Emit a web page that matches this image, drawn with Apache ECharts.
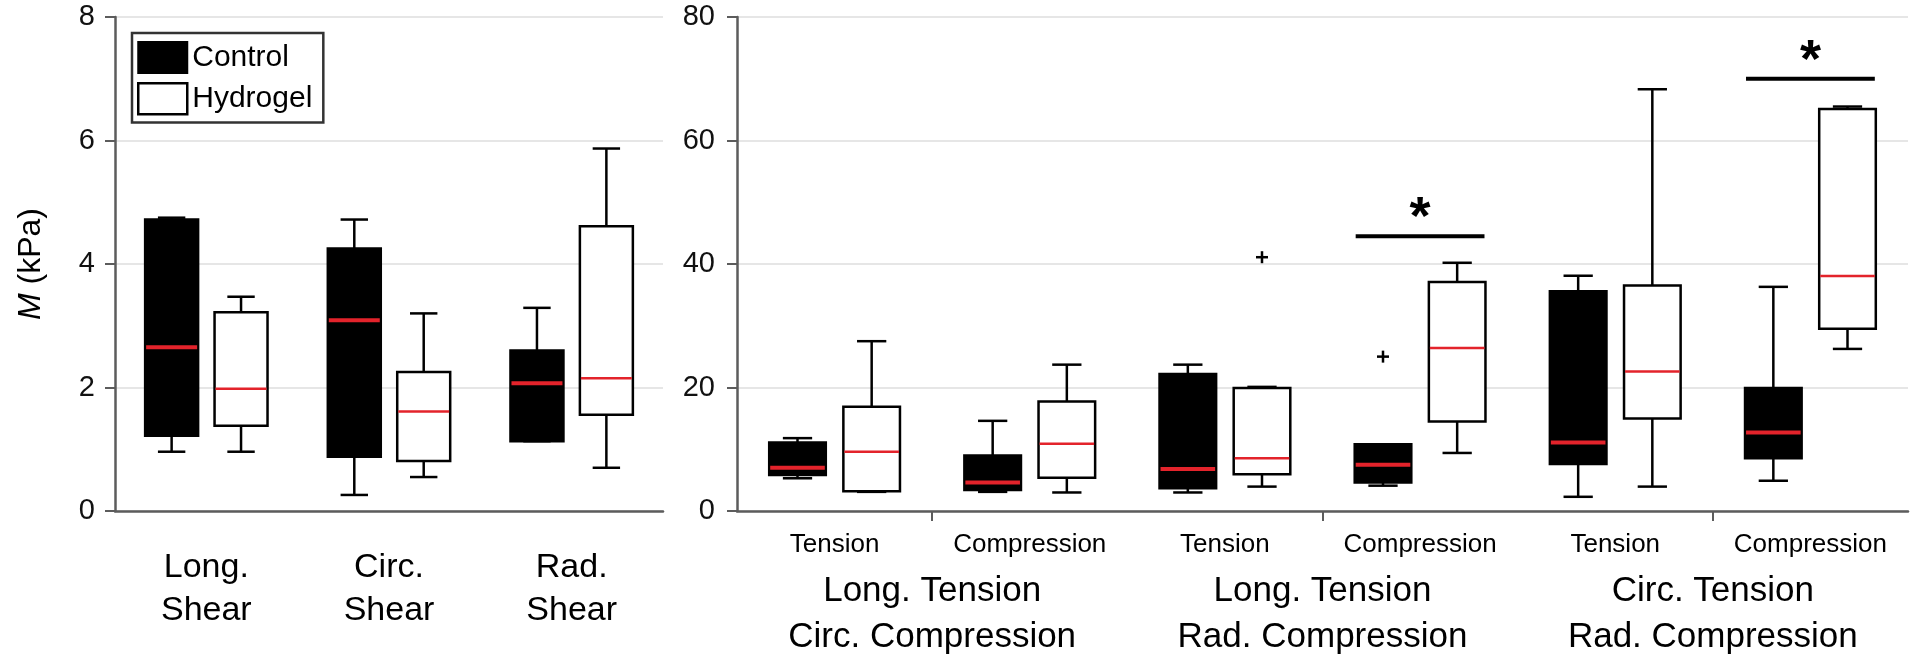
<!DOCTYPE html>
<html>
<head>
<meta charset="utf-8">
<script src="https://cdn.jsdelivr.net/npm/echarts@6/dist/echarts.min.js"></script>
<style>
  html, body { margin: 0; padding: 0; background: #fff; }
  #chart { width: 1920px; height: 660px; }
</style>
</head>
<body>
<div id="chart"></div>
<script>
// shear panel (left)
const shearCategories = ['Long.\nShear', 'Circ.\nShear', 'Rad.\nShear'];
// [min, q1, median, q3, max]
const shearControl = [
  [0.96, 1.22, 2.65, 4.72, 4.75],
  [0.26, 0.88, 3.09, 4.25, 4.72],
  [1.13, 1.13, 2.07, 2.60, 3.29]
];
const shearHydrogel = [
  [0.96, 1.38, 1.98, 3.22, 3.47],
  [0.55, 0.81, 1.61, 2.25, 3.20],
  [0.70, 1.56, 2.15, 4.61, 5.87]
];

// multi-axial panel (right)
const loadCategories = ['Tension', 'Compression', 'Tension', 'Compression', 'Tension', 'Compression'];
const groupCategories = ['Long. Tension\nCirc. Compression', 'Long. Tension\nRad. Compression', 'Circ. Tension\nRad. Compression'];
const loadControl = [
  [5.3, 5.85, 7.0, 11.1, 11.8],
  [3.1, 3.4, 4.6, 9.0, 14.6],
  [3.0, 3.7, 6.8, 22.2, 23.7],
  [4.1, 4.6, 7.5, 10.8, 10.8],
  [2.3, 7.6, 11.1, 35.6, 38.1],
  [4.9, 8.55, 12.7, 19.9, 36.3]
];
const loadHydrogel = [
  [3.1, 3.2, 9.6, 16.9, 27.5],
  [3.0, 5.4, 10.9, 17.75, 23.7],
  [3.95, 5.95, 8.55, 19.9, 20.1],
  [9.4, 14.5, 26.4, 37.1, 40.2],
  [3.95, 15.0, 22.6, 36.5, 68.3],
  [26.25, 29.5, 38.05, 65.1, 65.5]
];
// [category index, side (-1 control / 1 hydrogel), value]
const loadOutliers = [
  [2, 1, 41.1],
  [3, -1, 25.0]
];
// [category index, bar value, star value]
const significance = [
  [3, 44.5, 49.6],
  [5, 70.0, 75.0]
];

const FONT = '"Liberation Sans", Arial, Helvetica, sans-serif';
const AXIS_GRAY = '#5c5c5c';
const RED = '#e3232b';

function boxRenderer(side, fill, medianWidth) {
  return function (params, api) {
    const idx = api.value(0);
    const bw = api.size([1, 0])[0];
    const cx = api.coord([idx, 0])[0] + side * 0.19 * bw;
    const half = 0.145 * bw;
    const cap = 0.075 * bw;
    const y = k => api.coord([idx, api.value(k)])[1];
    const yMin = y(1), yQ1 = y(2), yMed = y(3), yQ3 = y(4), yMax = y(5);
    const ls = { stroke: '#000', lineWidth: 2.5 };
    return {
      type: 'group',
      children: [
        { type: 'line', shape: { x1: cx, y1: yMax, x2: cx, y2: yMin }, style: ls },
        { type: 'line', shape: { x1: cx - cap, y1: yMax, x2: cx + cap, y2: yMax }, style: ls },
        { type: 'line', shape: { x1: cx - cap, y1: yMin, x2: cx + cap, y2: yMin }, style: ls },
        { type: 'rect', shape: { x: cx - half, y: yQ3, width: 2 * half, height: yQ1 - yQ3 },
          style: { fill: fill, stroke: '#000', lineWidth: 2.5 } },
        { type: 'line', shape: { x1: cx - half + 1, y1: yMed, x2: cx + half - 1, y2: yMed },
          style: { stroke: RED, lineWidth: medianWidth } }
      ]
    };
  };
}

function outlierRenderer(params, api) {
  const idx = api.value(0);
  const bw = api.size([1, 0])[0];
  const p = api.coord([idx, api.value(2)]);
  const cx = p[0] + api.value(1) * 0.19 * bw;
  const s = 6;
  const ls = { stroke: '#000', lineWidth: 2.5 };
  return {
    type: 'group',
    children: [
      { type: 'line', shape: { x1: cx - s, y1: p[1], x2: cx + s, y2: p[1] }, style: ls },
      { type: 'line', shape: { x1: cx, y1: p[1] - s, x2: cx, y2: p[1] + s }, style: ls }
    ]
  };
}

function sigRenderer(params, api) {
  const idx = api.value(0);
  const bw = api.size([1, 0])[0];
  const cx = api.coord([idx, 0])[0];
  const yBar = api.coord([idx, api.value(1)])[1];
  const yStar = api.coord([idx, api.value(2)])[1];
  return {
    type: 'group',
    children: [
      { type: 'line', shape: { x1: cx - 0.33 * bw, y1: yBar, x2: cx + 0.33 * bw, y2: yBar },
        style: { stroke: '#000', lineWidth: 4 } },
      { type: 'text', x: cx, y: yStar + 14,
        style: { text: '*', fontSize: 54, fontWeight: 'bold', fontFamily: FONT, fill: '#000', align: 'center', verticalAlign: 'middle' } }
    ]
  };
}

const boxEncode = { x: 0, y: [1, 2, 3, 4, 5] };

const chart = echarts.init(document.getElementById('chart'));
chart.setOption({
  animation: false,
  backgroundColor: '#fff',
  textStyle: { fontFamily: FONT },
  legend: {
    left: 132,
    top: 33,
    orient: 'vertical',
    itemWidth: 49,
    itemHeight: 31,
    itemGap: 8,
    padding: [8, 11, 7, 5],
    borderColor: '#333',
    borderWidth: 2.5,
    backgroundColor: '#fff',
    selectedMode: false,
    textStyle: { fontSize: 30, color: '#000', fontFamily: FONT },
    data: [
      { name: 'Control', icon: 'rect', itemStyle: { color: '#000', borderColor: '#000', borderWidth: 2 } },
      { name: 'Hydrogel', icon: 'rect', itemStyle: { color: '#fff', borderColor: '#000', borderWidth: 2.5 } }
    ]
  },
  grid: [
    { left: 115, top: 17, width: 548, height: 494, containLabel: false, outerBoundsMode: 'none' },
    { left: 737, top: 17, width: 1171, height: 494, containLabel: false, outerBoundsMode: 'none' }
  ],
  xAxis: [
    {
      gridIndex: 0, type: 'category', data: shearCategories, position: 'bottom',
      axisLine: { lineStyle: { color: AXIS_GRAY, width: 2.5 } },
      axisTick: { alignWithLabel: true, length: 10, lineStyle: { color: AXIS_GRAY, width: 2 } },
      axisLabel: { fontSize: 34, lineHeight: 43, color: '#000', margin: 35, fontFamily: FONT }
    },
    {
      gridIndex: 1, type: 'category', data: loadCategories, position: 'bottom',
      axisLine: { lineStyle: { color: AXIS_GRAY, width: 2.5 } },
      axisTick: { show: false },
      axisLabel: { fontSize: 26, color: '#000', margin: 21, fontFamily: FONT, interval: 0 }
    },
    {
      gridIndex: 1, type: 'category', data: groupCategories, position: 'bottom',
      axisLine: { show: false },
      axisTick: { show: true, alignWithLabel: true, length: 10, lineStyle: { color: AXIS_GRAY, width: 2 } },
      axisLabel: { fontSize: 35, lineHeight: 46, color: '#000', margin: 57, fontFamily: FONT, interval: 0 }
    }
  ],
  yAxis: [
    {
      gridIndex: 0, type: 'value', min: 0, max: 8, interval: 2,
      name: '{i|M} (kPa)', nameLocation: 'middle', nameGap: 68,
      nameTextStyle: {
        fontSize: 32, color: '#000', fontFamily: FONT,
        rich: { i: { fontSize: 32, fontStyle: 'italic', color: '#000', fontFamily: FONT } }
      },
      axisLine: { show: true, lineStyle: { color: AXIS_GRAY, width: 2.5 } },
      axisTick: { show: true, length: 10, lineStyle: { color: AXIS_GRAY, width: 2 } },
      axisLabel: { fontSize: 29, color: '#111', margin: 20, fontFamily: FONT },
      splitLine: { lineStyle: { color: '#e6e6e6', width: 2 } }
    },
    {
      gridIndex: 1, type: 'value', min: 0, max: 80, interval: 20,
      axisLine: { show: true, lineStyle: { color: AXIS_GRAY, width: 2.5 } },
      axisTick: { show: true, length: 10, lineStyle: { color: AXIS_GRAY, width: 2 } },
      axisLabel: { fontSize: 29, color: '#111', margin: 22, fontFamily: FONT },
      splitLine: { lineStyle: { color: '#e6e6e6', width: 2 } }
    }
  ],
  series: [
    {
      name: 'Control', type: 'custom', xAxisIndex: 0, yAxisIndex: 0, encode: boxEncode,
      itemStyle: { color: '#000' },
      renderItem: boxRenderer(-1, '#000', 4),
      data: shearControl.map((d, i) => [i].concat(d))
    },
    {
      name: 'Hydrogel', type: 'custom', xAxisIndex: 0, yAxisIndex: 0, encode: boxEncode,
      itemStyle: { color: '#fff' },
      renderItem: boxRenderer(1, '#fff', 2.5),
      data: shearHydrogel.map((d, i) => [i].concat(d))
    },
    {
      name: 'Control', type: 'custom', xAxisIndex: 1, yAxisIndex: 1, encode: boxEncode,
      itemStyle: { color: '#000' },
      renderItem: boxRenderer(-1, '#000', 4),
      data: loadControl.map((d, i) => [i].concat(d))
    },
    {
      name: 'Hydrogel', type: 'custom', xAxisIndex: 1, yAxisIndex: 1, encode: boxEncode,
      itemStyle: { color: '#fff' },
      renderItem: boxRenderer(1, '#fff', 2.5),
      data: loadHydrogel.map((d, i) => [i].concat(d))
    },
    {
      name: 'outliers', type: 'custom', xAxisIndex: 1, yAxisIndex: 1, encode: { x: 0, y: 2 },
      renderItem: outlierRenderer,
      data: loadOutliers
    },
    {
      name: 'significance', type: 'custom', xAxisIndex: 1, yAxisIndex: 1, encode: { x: 0, y: [1, 2] },
      renderItem: sigRenderer,
      data: significance
    }
  ]
});
</script>
</body>
</html>
